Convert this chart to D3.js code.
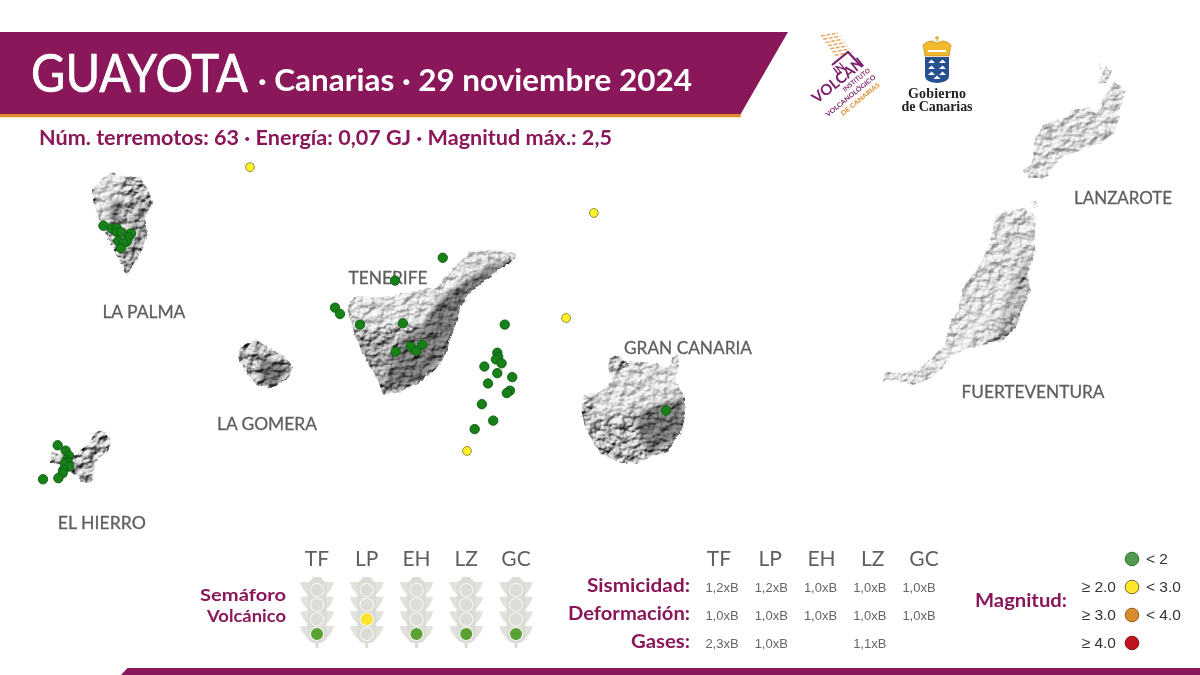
<!DOCTYPE html>
<html>
<head>
<meta charset="utf-8">
<title>Guayota - Canarias</title>
<script src="https://cdn.jsdelivr.net/npm/d3@7"></script>
<style>
body { margin: 0; background: #fff; }
svg { display: block; }
text { font-family: Lato, "Noto Sans", sans-serif; }
</style>
</head>
<body>
<svg id="chart" width="1200" height="675"></svg>
<script>
var WIDTH = 1200;
var HEIGHT = 675;
var PURPLE = "#8a1759";
var ORANGE = "#e08b2c";
var GRAY = "#5f5f5f";

// epicentres, [lon, lat].
var quakesLow = [
  [-16.443, 28.518], [-16.654, 28.432], [-16.919, 28.330], [-16.897, 28.306], [-16.809, 28.266],
  [-16.619, 28.271], [-16.651, 28.164], [-16.585, 28.183], [-16.561, 28.167], [-16.533, 28.191],
  [-16.169, 28.266], [-16.202, 28.160], [-16.198, 28.145], [-16.208, 28.135], [-16.183, 28.120],
  [-16.259, 28.108], [-16.202, 28.083], [-16.136, 28.068], [-16.243, 28.044], [-16.146, 28.017],
  [-16.160, 28.008], [-16.270, 27.966], [-16.220, 27.904], [-16.302, 27.872],
  [-15.456, 27.942],
  [-17.943, 28.639], [-17.906, 28.629], [-17.884, 28.629], [-17.884, 28.616], [-17.865, 28.614],
  [-17.821, 28.610], [-17.833, 28.595], [-17.840, 28.579], [-17.877, 28.581], [-17.855, 28.573],
  [-17.865, 28.554],
  [-18.145, 27.811], [-18.110, 27.791], [-18.095, 27.771], [-18.105, 27.756], [-18.101, 27.748],
  [-18.113, 27.743], [-18.094, 27.731], [-18.120, 27.718], [-18.123, 27.706], [-18.142, 27.687],
  [-18.210, 27.683]
];
var quakesMid = [[-16.336, 27.790], [-17.295, 28.860], [-15.775, 28.687], [-15.898, 28.291]];

// island outlines traced on the basemap grid
var tenerife = [[257.5,126.5],[250,125.5],[241.5,125],[235,126],[231,130],[226,135],[218.5,143.5],[210,145],[202.5,146.5],[194,148.5],[185,149],[177.5,148.5],[173.5,153.5],[175,160],[176.5,166.5],[180,173.5],[185,183.5],[189,190],[191.5,197.5],[200,196],[210,191],[218.5,184],[223.5,176.5],[225,168.5],[229,160],[230,153.5],[235,146.5],[241.5,141],[248.5,135],[256,131],[258,127.5]];
var granCanaria = [[305,179],[310,177.5],[312.5,181.5],[323.5,181],[335,183.5],[336,179],[339,177.5],[339.5,184],[337.5,190],[342.5,199],[342.5,208.5],[341,215],[336.5,221.5],[333.5,226],[325,228.5],[318.5,231.5],[310,231.5],[301.5,227.5],[296.5,221.5],[292.5,213.5],[290.5,204],[292.5,197.5],[300,196],[306,190],[304,183.5]];
var fuerteventura = [[497.5,107.5],[505,105],[512.5,104],[517.5,107.5],[517.5,118.5],[517.5,126.5],[514,136.5],[515,146.5],[511,155],[508.5,163.5],[501.5,170],[491.5,172.5],[481.5,175],[475,178.5],[471,184],[463.5,190],[456.5,192.5],[448.5,190],[441,190.5],[442.5,186],[451.5,186.5],[460,184],[466.5,178.5],[472.5,172.5],[475,161.5],[479,155],[481.5,143.5],[488.5,135],[493.5,125],[496,116.5]];
var lobos = [[516,101],[518,100.5],[518.5,104],[516.5,104]];
var lanzarote = [[556.5,41],[562.5,45],[561.5,50],[559,56],[559.5,60],[557.5,66.5],[550,71.5],[540,75],[530,79],[522.5,89],[515,89],[511.5,85],[516,81.5],[517.5,69],[521.5,62.5],[533.5,58.5],[536.5,55],[545,53.5],[548.5,57.5],[552.5,48.5]];
var graciosa = [[549,41],[552.5,34],[556,35],[555,39],[551,42]];
var clara = [[549,32],[550,31.5],[550.5,33.5],[549.5,34]];
var laPalma = [[56,86],[61.5,88.5],[70,88.5],[74,95],[76.5,101],[72.5,109],[73.5,116.5],[71,125],[66,133.5],[63.5,137.5],[59,128.5],[54,119],[50,111.5],[46.5,100],[46,95],[51,90]];
var laGomera = [[120,173.5],[127.5,169.5],[134,173.5],[142.5,178.5],[146.5,183.5],[144,189],[136,194],[128.5,192.5],[123.5,186.5],[119,180]];
var elHierro = [[56,220],[51.5,215],[47.5,216.5],[44,222.5],[37.5,227.5],[31,227.5],[26,226],[25,231],[31.5,232.5],[36,236],[41.5,241],[46,241],[47.5,231],[54,225]];

var islands = [tenerife, granCanaria, fuerteventura, lobos, lanzarote, graciosa, clara, laPalma, laGomera, elHierro];

// relief shading, same grid
var shadeDark = [
  [[220,148.5],[210,163.5],[200,170],[191.5,196.5],[210,191],[223.5,176.5],[229,160],[238.5,145],[250,135],[258,129],[247.5,131],[232.5,140]],
  [[320,205],[342,198],[342,215],[325,228],[318,212]],
  [[56,100],[62,100],[58,112],[54,108]],
  [[130,178],[146,184],[136,194],[130,190]]
];
var shadeMid = [
  [[176.5,166.5],[200,170],[191.5,197.5],[185,183.5]],
  [[70,100],[76,102],[72,125],[64,137],[62,118]],
  [[506,140],[514,125],[515,146],[508,163],[496,170]]
];
var shadeLight = [
  [[173.5,150],[210,145],[235,125],[257.5,126],[235,140],[220,148.5],[210,163.5],[197.5,162.5],[176.5,165]],
  [[495,100],[520,100],[520,130],[500,150],[470,190],[440,195],[438,185],[470,160]],
  [[505,140],[515,150],[490,175],[470,180]],
  [[510,60],[565,30],[565,70],[510,92]],
  [[46,88],[62,86],[60,100],[50,115]],
  [[290,190],[340,176],[340,200],[300,210]]
];

// semaforo volcanico
var volcanoCodes = ["TF", "LP", "EH", "LZ", "GC"];
var alertLevels = ["verde", "amarillo", "verde", "verde", "verde"];
var lampNames = ["rojo", "naranja", "amarillo", "verde"];
var lampColors = { amarillo: "#ffe32e", verde: "#5aa032" };

// table
var tableRows = ["Sismicidad:", "Deformación:", "Gases:"];
var rowWidth = [103, 122, 59];
var sismicidad = ["1,2xB", "1,2xB", "1,0xB", "1,0xB", "1,0xB"];
var deformacion = ["1,0xB", "1,0xB", "1,0xB", "1,0xB", "1,0xB"];
var gases = ["2,3xB", "1,0xB", "", "1,1xB", ""];

// legend
var magClasses = ["m0", "m2", "m3", "m4"];
var magFrom = ["", "≥ 2.0", "≥ 3.0", "≥ 4.0"];
var magTo = ["< 2", "< 3.0", "< 4.0", ""];
var magFill = ["#4f9a50", "#ffe62e", "#d98b2b", "#c2141f"];
var magStroke = ["#2c7432", "#6b6a20", "#8a5a1e", "#7d1016"];

// island labels
var islandNames = ["LANZAROTE", "FUERTEVENTURA", "GRAN CANARIA", "TENERIFE", "LA PALMA", "LA GOMERA", "EL HIERRO"];
var labelLon = [-13.436, -13.834, -15.359, -16.685, -17.764, -17.22, -17.95];
var labelLat = [28.72, 27.989, 28.154, 28.419, 28.29, 27.867, 27.494];
var labelWidth = [98, 143, 128, 79, 83, 100, 88];

var svg = d3.select("#chart");
var defs = svg.append("defs");

var lonScale = d3.scaleLinear().domain([-18.40, -13.096]).range([0, WIDTH]);
var latScale = d3.scaleLinear().domain([29.49, 26.945]).range([0, HEIGHT]);
var gridX = d3.scaleLinear().domain([0, 600]).range([0, WIDTH]);
var gridY = d3.scaleLinear().domain([0, 337.5]).range([0, HEIGHT]);
var outline = d3.line().x(d => gridX(d[0])).y(d => gridY(d[1])).curve(d3.curveLinearClosed);

// rough island edge for the mask
var rough = defs.append("filter").attr("id", "rough").attr("x", "-5%").attr("y", "-5%").attr("width", "110%").attr("height", "110%");
rough.append("feTurbulence").attr("type", "fractalNoise").attr("baseFrequency", 0.2).attr("numOctaves", 2).attr("seed", 4).attr("result", "n");
rough.append("feDisplacementMap").attr("in", "SourceGraphic").attr("in2", "n").attr("scale", 4).attr("xChannelSelector", "R").attr("yChannelSelector", "G");
rough.append("feGaussianBlur").attr("stdDeviation", 0.6);

// hillshade from noise
var relief = defs.append("filter").attr("id", "relief").attr("x", 0).attr("y", 0).attr("width", "100%").attr("height", "100%")
  .attr("color-interpolation-filters", "sRGB");
relief.append("feTurbulence").attr("type", "fractalNoise").attr("baseFrequency", "0.12 0.14").attr("numOctaves", 3).attr("seed", 11).attr("result", "n");
var light = relief.append("feDiffuseLighting").attr("in", "n").attr("surfaceScale", 4).attr("diffuseConstant", 0.96).attr("lighting-color", "#fff");
light.append("feDistantLight").attr("azimuth", 235).attr("elevation", 50);

var softShade = defs.append("filter").attr("id", "softShade");
softShade.append("feGaussianBlur").attr("stdDeviation", 2);

var mask = defs.append("mask").attr("id", "landMask").attr("maskUnits", "userSpaceOnUse")
  .attr("x", 0).attr("y", 0).attr("width", WIDTH).attr("height", HEIGHT);
mask.append("g").attr("filter", "url(#rough)").selectAll("path").data(islands).enter().append("path")
  .attr("d", outline).attr("fill", "#fff");

var land = svg.append("g").attr("mask", "url(#landMask)");
land.append("rect").attr("width", WIDTH).attr("height", HEIGHT).attr("filter", "url(#relief)");
var shades = land.append("g").attr("filter", "url(#softShade)");
shades.selectAll(".light").data(shadeLight).enter().append("path").attr("class", "light")
  .attr("d", outline).attr("fill", "#fff").attr("opacity", 0.5);
shades.selectAll(".mid").data(shadeMid).enter().append("path").attr("class", "mid")
  .attr("d", outline).attr("fill", "#444").attr("opacity", 0.18);
shades.selectAll(".dark").data(shadeDark).enter().append("path").attr("class", "dark")
  .attr("d", outline).attr("fill", "#2a2a2a").attr("opacity", 0.48);

// island names
svg.append("g").selectAll("text").data(islandNames).enter().append("text")
  .attr("x", (d, i) => lonScale(labelLon[i]))
  .attr("y", (d, i) => latScale(labelLat[i]))
  .attr("text-anchor", "middle")
  .attr("textLength", (d, i) => labelWidth[i])
  .attr("lengthAdjust", "spacingAndGlyphs")
  .attr("font-size", 17)
  .attr("fill", GRAY)
  .attr("stroke", GRAY).attr("stroke-width", 0.3)
  .text(d => d);

// quakes
var dotLayer = svg.append("g");
dotLayer.selectAll(".low").data(quakesLow).enter().append("circle").attr("class", "low")
  .attr("cx", d => lonScale(d[0])).attr("cy", d => latScale(d[1])).attr("r", 4.7)
  .attr("fill", "#178017").attr("stroke", "#0d5c16").attr("stroke-width", 0.9);
dotLayer.selectAll(".mid").data(quakesMid).enter().append("circle").attr("class", "mid")
  .attr("cx", d => lonScale(d[0])).attr("cy", d => latScale(d[1])).attr("r", 4.4)
  .attr("fill", "#fff22a").attr("stroke", "#77741c").attr("stroke-width", 0.8);

// header band
var headX = d3.scaleLinear().domain([0, 1]).range([0, 788]);
var headY = d3.scaleLinear().domain([0, 1]).range([32, 114]);
var headLine = d3.line().x(d => headX(d[0])).y(d => headY(d[1]));
svg.append("path").attr("d", headLine([[0, 1], [0.94, 1], [0.94, 1.04], [0, 1.04]])).attr("fill", ORANGE);
svg.append("path").attr("d", headLine([[0, 0], [1, 0], [0.94, 1], [0, 1]])).attr("fill", PURPLE);
svg.append("text").attr("x", 31).attr("y", 92).attr("font-size", 52).attr("fill", "#fff")
  .attr("stroke", "#fff").attr("stroke-width", 0.7)
  .attr("textLength", 217).attr("lengthAdjust", "spacingAndGlyphs").text("GUAYOTA");
svg.append("text").attr("x", 258).attr("y", 91).attr("font-size", 30).attr("font-weight", 700).attr("fill", "#fff")
  .attr("textLength", 434).attr("lengthAdjust", "spacingAndGlyphs").text("· Canarias · 29 noviembre 2024");
svg.append("text").attr("x", 39).attr("y", 145).attr("font-size", 20).attr("font-weight", 700).attr("fill", PURPLE)
  .attr("textLength", 573).attr("lengthAdjust", "spacingAndGlyphs").text("Núm. terremotos: 63 · Energía: 0,07 GJ · Magnitud máx.: 2,5");

// bottom band
var footX = d3.scaleLinear().domain([0, 1]).range([121, WIDTH]);
var footY = d3.scaleLinear().domain([0, 1]).range([668, HEIGHT]);
svg.append("path")
  .attr("d", d3.line().x(d => footX(d[0])).y(d => footY(d[1]))([[0.006, 0], [1, 0], [1, 1], [0, 1]]))
  .attr("fill", PURPLE);

// traffic lights
var BODY = "#dcdcd6";
var lightX = d3.scalePoint().domain(volcanoCodes).range([317, 516]);
var lampY = d3.scalePoint().domain(lampNames).range([590, 634]);

svg.append("g").selectAll("text").data(volcanoCodes).enter().append("text")
  .attr("x", d => lightX(d)).attr("y", 566).attr("text-anchor", "middle")
  .attr("font-size", 21).attr("fill", GRAY).text(d => d);

var lights = svg.append("g").selectAll("g").data(volcanoCodes).enter().append("g")
  .attr("transform", d => "translate(" + lightX(d) + ",0)");
lampNames.forEach(function(name) {
  var y = lampY(name);
  var p = d3.path();
  p.moveTo(-17, y - 8);
  p.lineTo(17, y - 8);
  p.quadraticCurveTo(14, y + 2, 8, y + 5);
  p.lineTo(-8, y + 5);
  p.quadraticCurveTo(-14, y + 2, -17, y - 8);
  lights.append("path").attr("d", p.toString()).attr("fill", "#e2e2dd");
});
lights.append("rect").attr("x", -9.5).attr("y", 579).attr("width", 19).attr("height", 64).attr("rx", 7).attr("fill", BODY);
lights.append("rect").attr("x", -5).attr("y", 577).attr("width", 10).attr("height", 5).attr("rx", 2).attr("fill", BODY);
lights.append("rect").attr("x", -1.5).attr("y", 642).attr("width", 3).attr("height", 6).attr("fill", BODY);
lampNames.forEach(function(name) {
  lights.append("circle").attr("cy", lampY(name)).attr("r", 6.6)
    .attr("fill", (d, i) => alertLevels[i] === name ? lampColors[name] : BODY)
    .attr("stroke", "#f3f3ef").attr("stroke-width", 1.2);
});

svg.append("text").attr("x", 286).attr("y", 601).attr("text-anchor", "end").attr("font-size", 17)
  .attr("font-weight", 700).attr("fill", PURPLE).attr("textLength", 86).attr("lengthAdjust", "spacingAndGlyphs").text("Semáforo");
svg.append("text").attr("x", 286).attr("y", 622).attr("text-anchor", "end").attr("font-size", 17)
  .attr("font-weight", 700).attr("fill", PURPLE).attr("textLength", 79).attr("lengthAdjust", "spacingAndGlyphs").text("Volcánico");

// table
var colX = d3.scalePoint().domain(volcanoCodes).range([719, 924]);
var valueX = d3.scalePoint().domain(volcanoCodes).range([722, 919]);
var rowY = d3.scalePoint().domain(tableRows).range([587, 643]);
var tableValues = [sismicidad, deformacion, gases];

svg.append("g").selectAll("text").data(volcanoCodes).enter().append("text")
  .attr("x", d => colX(d)).attr("y", 566).attr("text-anchor", "middle")
  .attr("font-size", 21).attr("fill", GRAY).text(d => d);
svg.append("g").selectAll("text").data(tableRows).enter().append("text")
  .attr("x", 690).attr("y", d => rowY(d) + 5).attr("text-anchor", "end")
  .attr("font-size", 19).attr("font-weight", 700).attr("fill", PURPLE)
  .attr("textLength", (d, i) => rowWidth[i]).attr("lengthAdjust", "spacingAndGlyphs").text(d => d);
tableRows.forEach(function(row, r) {
  svg.append("g").selectAll("text").data(tableValues[r]).enter().append("text")
    .attr("x", (d, i) => valueX(volcanoCodes[i])).attr("y", rowY(row) + 5)
    .attr("text-anchor", "middle").attr("font-size", 13)
    .style("font-family", "'Liberation Sans', sans-serif").attr("fill", "#666").text(d => d);
});

// legend
var legendY = d3.scalePoint().domain(magClasses).range([559, 643]);
svg.append("text").attr("x", 1067).attr("y", 607).attr("text-anchor", "end").attr("font-size", 19)
  .attr("font-weight", 700).attr("fill", PURPLE).attr("textLength", 92).attr("lengthAdjust", "spacingAndGlyphs").text("Magnitud:");
svg.append("g").selectAll("circle").data(magClasses).enter().append("circle")
  .attr("cx", 1132).attr("cy", d => legendY(d)).attr("r", 6.8)
  .attr("fill", (d, i) => magFill[i]).attr("stroke", (d, i) => magStroke[i]).attr("stroke-width", 1);
svg.append("g").selectAll("text").data(magFrom).enter().append("text")
  .attr("x", 1116).attr("y", (d, i) => legendY(magClasses[i]) + 5).attr("text-anchor", "end")
  .attr("font-size", 15.5).style("font-family", "'Liberation Sans', sans-serif").attr("fill", "#333").text(d => d);
svg.append("g").selectAll("text").data(magTo).enter().append("text")
  .attr("x", 1146).attr("y", (d, i) => legendY(magClasses[i]) + 5)
  .attr("font-size", 15.5).style("font-family", "'Liberation Sans', sans-serif").attr("fill", "#333").text(d => d);

// Involcan logo
var logo = svg.append("g");
var sandRows = d3.range(7);
logo.selectAll("line").data(sandRows).enter().append("line")
  .attr("x1", d => 821 + d * 2.3).attr("x2", d => 838 + d * 2.3)
  .attr("y1", d => 36 + d * 3.2).attr("y2", d => 33 + d * 3.2)
  .attr("stroke", ORANGE).attr("stroke-width", 1.5).attr("stroke-dasharray", "4 1.5").attr("opacity", 0.75);
logo.append("path").attr("d", d3.line()([[832, 65], [848, 52], [862, 67]]))
  .attr("fill", "none").attr("stroke", "#7b1e6b").attr("stroke-width", 2.2);
function logoText(x, y, size, weight, color, str, len) {
  logo.append("text").attr("transform", "translate(" + x + "," + y + ") rotate(-39)")
    .attr("font-size", size).attr("font-weight", weight).attr("fill", color)
    .attr("textLength", len).attr("lengthAdjust", "spacingAndGlyphs").text(str);
}
logoText(838, 76, 13, 700, "#7b1e6b", "IN", 11);
logoText(817, 104, 15, 700, "#7b1e6b", "VOLCAN", 62);
logoText(845, 92, 6.5, 700, "#7b1e6b", "INSTITUTO", 33);
logoText(828, 117, 6.5, 700, "#7b1e6b", "VOLCANOLÓGICO", 62);
logoText(843, 116, 6.5, 700, ORANGE, "DE CANARIAS", 48);

// Gobierno de Canarias logo
var gob = svg.append("g").attr("transform", "translate(937,0)");
gob.append("path").attr("d", "M-12,56 L-14,45 Q-7,38 0,43 Q7,38 14,45 L12,56 Z").attr("fill", "#f1b92d").attr("stroke", "#b5811b").attr("stroke-width", 0.6);
gob.append("path").attr("d", "M-9,51 L9,51").attr("stroke", "#fff").attr("stroke-width", 2);
gob.append("path").attr("d", "M0,36 L0,41 M-2,38 L2,38").attr("stroke", "#e0a528").attr("stroke-width", 1.3);
gob.append("path").attr("d", "M-12,57 L12,57 L12,76 Q12,82 0,83 Q-12,82 -12,76 Z").attr("fill", "#27508f");
var peakX = [-5.5, 5.5, -5.5, 5.5, -5.5, 5.5, 0];
var peakY = [63, 63, 69, 69, 75, 75, 79];
gob.selectAll(".peak").data(peakX).enter().append("path").attr("class", "peak")
  .attr("d", (d, i) => d3.line()([[d - 3.5, peakY[i]], [d + 3.5, peakY[i]], [d, peakY[i] - 3.5]]))
  .attr("fill", "#fff");
gob.append("text").attr("y", 98).attr("text-anchor", "middle").attr("font-size", 14).attr("font-weight", 700)
  .style("font-family", "'Liberation Serif', serif").attr("fill", "#222").attr("textLength", 58).text("Gobierno");
gob.append("text").attr("y", 111).attr("text-anchor", "middle").attr("font-size", 14).attr("font-weight", 700)
  .style("font-family", "'Liberation Serif', serif").attr("fill", "#222").attr("textLength", 71).text("de Canarias");
</script>
</body>
</html>
